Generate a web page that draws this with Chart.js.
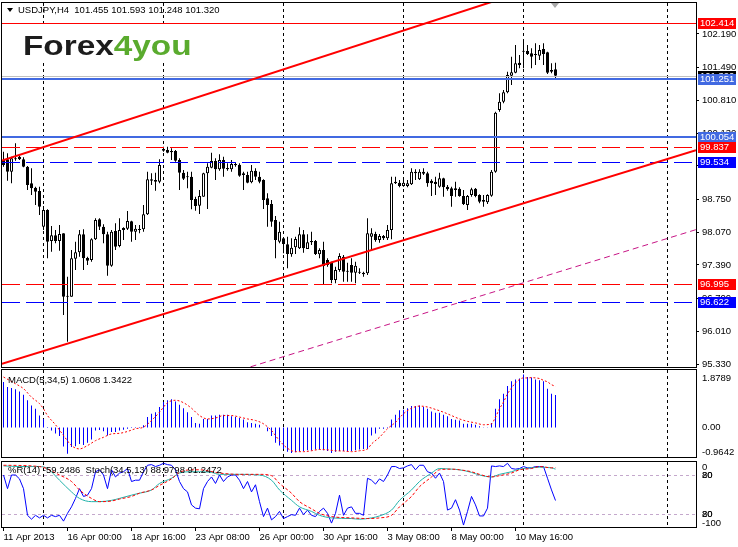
<!DOCTYPE html>
<html>
<head>
<meta charset="utf-8">
<title>USDJPY,H4</title>
<script src="https://cdn.jsdelivr.net/npm/chart.js@4.4.1/dist/chart.umd.min.js"></script>
<style>
  html, body { margin: 0; padding: 0; background: #fff; }
  #wrap { position: relative; width: 738px; height: 547px; overflow: hidden; background: #fff; }
  canvas { position: absolute; left: 0; }
  #mainChart { top: 0; }
  #macdChart { top: 368px; }
  #stochChart { top: 459px; }
</style>
</head>
<body>
<div id="wrap">
  <canvas id="mainChart" width="738" height="368"></canvas>
  <canvas id="macdChart" width="738" height="90"></canvas>
  <canvas id="stochChart" width="738" height="88"></canvas>
</div>
<script>
// Chart.js defaults
Chart.defaults.font.family = '"Liberation Sans", Arial, sans-serif'
Chart.defaults.font.size = 9.5
Chart.defaults.color = '#000'
const FONT = '9.5px "Liberation Sans", Arial, sans-serif'

// ---- Candles, 139 H4 bars (11 Apr 2013 .. 10 May 2013) ----
const opens = [
  99.570, 99.584, 99.328, 99.605, 99.640, 99.584, 99.432, 99.085, 98.995, 98.926,
  98.185, 98.531, 97.887, 98.004, 97.887, 98.046, 96.730, 96.730, 97.519, 97.651,
  98.025, 97.533, 97.492, 97.921, 98.337, 98.185, 98.025, 97.374, 98.094, 97.783,
  98.115, 98.143, 98.295, 98.081, 98.136, 98.129, 98.441, 99.169, 99.155, 99.120,
  99.799, 99.778, 99.757, 99.757, 99.570, 99.307, 99.224, 99.224, 98.760, 98.621,
  98.808, 99.293, 99.411, 99.550, 99.376, 99.570, 99.404, 99.376, 99.487, 99.473,
  99.293, 99.259, 99.106, 99.349, 99.224, 99.155, 98.774, 98.656, 98.323, 97.873,
  97.942, 97.817, 97.609, 97.755, 97.734, 98.025, 97.720, 97.859, 97.887, 97.609,
  97.700, 97.492, 97.436, 97.076, 97.284, 97.561, 97.249, 97.388, 97.228, 97.249,
  97.228, 97.215, 97.977, 98.032, 97.908, 97.991, 97.942, 98.115, 99.085, 99.099,
  99.030, 99.030, 99.065, 99.328, 99.169, 99.328, 99.293, 99.141, 99.120, 99.016,
  99.189, 99.016, 98.981, 98.981, 98.974, 98.822, 98.635, 98.843, 98.974, 98.843,
  98.739, 98.690, 98.829, 99.328, 100.610, 100.783, 100.977, 101.324, 101.386, 101.594,
  101.836, 101.836, 101.788, 101.774, 101.739, 101.878, 101.809, 101.442, 101.455
]
const highs = [
  99.744, 99.709, 99.640, 99.917, 99.654, 99.626, 99.446, 99.397, 99.016, 99.016,
  98.614, 98.545, 98.199, 98.115, 98.219, 98.046, 97.145, 97.700, 97.873, 98.115,
  98.129, 97.561, 97.942, 98.358, 98.358, 98.233, 98.081, 98.115, 98.254, 98.358,
  98.171, 98.510, 98.309, 98.219, 98.219, 98.635, 99.328, 99.293, 99.307, 99.584,
  99.848, 99.848, 99.813, 99.778, 99.605, 99.363, 99.328, 99.328, 98.808, 98.947,
  99.307, 99.501, 99.723, 99.605, 99.688, 99.640, 99.501, 99.570, 99.522, 99.501,
  99.328, 99.328, 99.466, 99.397, 99.328, 99.169, 98.878, 98.739, 98.406, 98.289,
  97.963, 97.977, 97.942, 97.977, 98.171, 98.115, 98.025, 98.081, 97.908, 97.734,
  97.873, 97.526, 97.457, 97.353, 97.630, 97.596, 97.436, 97.526, 97.457, 97.318,
  97.249, 98.358, 98.150, 98.081, 98.032, 98.012, 98.219, 99.224, 99.224, 99.155,
  99.189, 99.155, 99.397, 99.376, 99.376, 99.397, 99.328, 99.169, 99.224, 99.307,
  99.203, 99.051, 99.016, 99.120, 99.002, 98.947, 98.843, 98.995, 98.988, 98.857,
  98.843, 98.857, 99.363, 100.575, 100.957, 101.026, 101.407, 101.719, 101.961, 101.753,
  102.031, 101.961, 101.892, 101.996, 101.961, 101.996, 101.823, 101.580, 101.593
]
const lows = [
  99.432, 99.141, 99.085, 99.557, 99.570, 99.418, 98.947, 98.843, 98.635, 98.427,
  98.115, 97.526, 97.665, 97.838, 97.686, 96.348, 95.794, 96.730, 97.284, 97.561,
  97.284, 97.388, 97.457, 97.908, 98.115, 97.838, 97.166, 97.353, 97.700, 97.755,
  97.908, 98.115, 97.873, 97.908, 98.046, 98.081, 98.427, 99.051, 98.933, 99.085,
  99.744, 99.709, 99.570, 99.536, 98.947, 99.155, 98.981, 98.545, 98.517, 98.448,
  98.808, 98.552, 99.397, 99.155, 99.349, 99.224, 99.349, 99.328, 99.432, 99.224,
  98.947, 99.085, 99.085, 99.155, 99.085, 98.552, 98.185, 98.185, 97.526, 97.838,
  97.630, 97.318, 97.561, 97.616, 97.720, 97.644, 97.720, 97.804, 97.595, 97.526,
  96.972, 97.353, 97.007, 97.007, 97.249, 97.041, 97.041, 97.041, 97.007, 97.201,
  97.145, 97.180, 97.700, 97.873, 97.852, 97.908, 97.908, 97.921, 99.071, 99.002,
  99.016, 99.002, 99.051, 99.155, 99.155, 99.259, 99.016, 98.822, 98.843, 98.995,
  98.808, 98.933, 98.600, 98.808, 98.808, 98.635, 98.531, 98.808, 98.794, 98.670,
  98.600, 98.656, 98.808, 99.307, 100.575, 100.749, 100.957, 101.130, 101.372, 101.476,
  101.476, 101.753, 101.476, 101.545, 101.649, 101.545, 101.358, 101.372, 101.248
]
const closes = [
  99.466, 99.328, 99.605, 99.584, 99.584, 99.432, 99.051, 98.981, 98.912, 98.600,
  98.531, 97.873, 98.004, 97.887, 98.032, 96.730, 96.750, 97.526, 97.651, 98.025,
  97.526, 97.478, 97.921, 98.323, 98.185, 98.025, 97.374, 98.081, 97.769, 98.115,
  98.157, 98.302, 98.081, 98.143, 98.115, 98.441, 99.169, 99.141, 99.120, 99.466,
  99.764, 99.723, 99.730, 99.557, 99.307, 99.182, 99.210, 98.739, 98.614, 98.822,
  99.293, 99.432, 99.550, 99.376, 99.570, 99.390, 99.376, 99.487, 99.460, 99.245,
  99.259, 99.099, 99.349, 99.224, 99.120, 98.739, 98.635, 98.289, 97.908, 98.081,
  97.824, 97.616, 97.748, 97.928, 98.025, 97.734, 97.859, 97.887, 97.616, 97.700,
  97.367, 97.388, 97.076, 97.284, 97.575, 97.249, 97.263, 97.228, 97.374, 97.228,
  97.194, 98.046, 98.046, 97.908, 97.991, 97.942, 98.115, 99.085, 99.120, 99.030,
  99.099, 99.085, 99.328, 99.293, 99.328, 99.286, 99.085, 99.085, 99.071, 99.189,
  99.002, 98.961, 98.822, 98.947, 98.822, 98.656, 98.822, 98.961, 98.822, 98.704,
  98.704, 98.843, 99.328, 100.555, 100.783, 100.977, 101.338, 101.393, 101.580, 101.545,
  101.823, 101.774, 101.719, 101.753, 101.857, 101.774, 101.386, 101.407, 101.320
]

// Price axis ticks
const priceTicks = [102.19, 101.49, 100.81, 100.13, 99.45, 98.75, 98.07, 97.39, 96.70, 96.01, 95.33]

// Horizontal levels (drawn objects) and trend lines given as [bar, price] anchor pairs
const hLevels = [102.414, 101.251, 100.054, 99.837, 99.534, 96.995, 96.622]
const upperChannel = [[0, 99.569], [120, 102.801]]
const lowerChannel = [[0, 95.342], [120, 98.415]]
const magentaLine = [[100, 96.251], [173, 98.120]]

// MACD(5,34,5)
const macdMax = 1.8789
const macdMin = -0.9642
const macdHist = [
  1.49, 1.32, 1.29, 1.25, 1.18, 1.07, 0.89, 0.72, 0.61, 0.39,
  0.28, 0.02, -0.10, -0.20, -0.28, -0.62, -0.86, -0.64, -0.61, -0.54,
  -0.57, -0.50, -0.39, -0.10, -0.08, -0.12, -0.26, -0.15, -0.15, -0.10,
  -0.07, -0.04, -0.02, -0.02, -0.02, 0.07, 0.34, 0.45, 0.50, 0.67,
  0.83, 0.89, 0.92, 0.85, 0.74, 0.63, 0.50, 0.34, 0.15, 0.12,
  0.28, 0.28, 0.39, 0.39, 0.42, 0.42, 0.42, 0.37, 0.34, 0.31,
  0.26, 0.17, 0.15, 0.12, 0.09, 0.00, -0.12, -0.28, -0.50, -0.59,
  -0.70, -0.79, -0.83, -0.81, -0.77, -0.77, -0.74, -0.75, -0.72, -0.72,
  -0.74, -0.77, -0.83, -0.79, -0.77, -0.77, -0.77, -0.77, -0.74, -0.72,
  -0.70, -0.70, -0.26, -0.20, -0.04, -0.04, -0.02, 0.26, 0.42, 0.56,
  0.58, 0.63, 0.70, 0.70, 0.72, 0.67, 0.61, 0.52, 0.48, 0.48,
  0.42, 0.37, 0.28, 0.25, 0.23, 0.12, 0.12, 0.12, 0.09, 0.04,
  0.01, 0.01, 0.15, 0.61, 0.92, 1.10, 1.36, 1.51, 1.57, 1.60,
  1.73, 1.65, 1.63, 1.57, 1.54, 1.51, 1.27, 1.10, 1.0608
]
const macdSigBars = [0, 3, 5, 7, 9, 10, 11, 13, 15, 17, 19, 21, 23, 25, 27, 29, 31, 33, 35, 37,
  39, 41, 43, 45, 47, 49, 51, 53, 55, 57, 59, 61, 63, 65, 67, 69, 71, 73, 75, 77,
  79, 81, 83, 85, 87, 89, 91, 92, 94, 96, 98, 100, 102, 104, 106, 108, 110, 112, 114, 116,
  118, 120, 122, 123, 124, 125, 126, 127, 128, 129, 130, 131, 132, 133, 134, 135, 136, 137, 138]
const macdSignal = [1.65, 1.43, 1.27, 0.99, 0.78, 0.61, 0.39, 0.09, -0.26, -0.59, -0.70, -0.59, -0.43, -0.32, -0.21, -0.19, -0.13, -0.04, 0.01, 0.23,
  0.50, 0.81, 0.89, 0.81, 0.63, 0.39, 0.28, 0.31, 0.39, 0.39, 0.34, 0.28, 0.23, 0.12, -0.10, -0.43, -0.68, -0.79, -0.79, -0.76,
  -0.72, -0.73, -0.76, -0.77, -0.79, -0.76, -0.70, -0.54, -0.32, -0.04, 0.17, 0.45, 0.63, 0.70, 0.67, 0.59, 0.50, 0.39, 0.28, 0.20,
  0.15, 0.09, 0.12, 0.34, 0.61, 0.83, 1.10, 1.29, 1.46, 1.57, 1.62, 1.62, 1.63, 1.62, 1.60, 1.54, 1.49, 1.40, 1.3422]

// %R(14) and Stoch(34,5,13)
const wpr = [
  -20, -41, -20, -20, -26, -41, -82, -88, -82, -86,
  -82, -86, -82, -84, -82, -91, -79, -69, -56, -41,
  -53, -51, -41, -15, -12, -20, -41, -12, -23, -17,
  -15, -10, -30, -28, -28, -15, -5, -4, -7, -5,
  -2, -4, -5, -12, -30, -41, -46, -66, -71, -72,
  -41, -30, -23, -33, -20, -30, -23, -20, -20, -28,
  -41, -30, -46, -35, -61, -84, -71, -89, -84, -76,
  -87, -84, -81, -82, -71, -81, -74, -82, -84, -76,
  -71, -79, -94, -79, -51, -82, -71, -69, -79, -79,
  -82, -25, -28, -34, -26, -30, -20, -7, -7, -10,
  -9, -6, -4, -12, -5, -5, -15, -17, -25, -17,
  -30, -74, -71, -58, -74, -97, -76, -53, -66, -83,
  -83, -71, -6, -7, -6, -7, -2, -10, -11, -10,
  -7, -9, -9, -7, -7, -7, -25, -43, -59.2486
]
const stochBars = [0, 4, 9, 11, 14, 17, 19, 22, 24, 27, 29, 32, 34, 37, 39, 42, 44, 47, 49, 52,
  54, 59, 64, 67, 69, 72, 74, 77, 79, 82, 87, 89, 92, 94, 97, 99, 102, 104, 107, 109,
  112, 114, 117, 119, 122, 124, 127, 129, 132, 134, 137, 138]
const stochMain = [94, 93, 93, 90, 72, 54, 44, 39, 39, 41, 44, 49, 52, 57, 67, 75, 83, 85, 85, 84,
  81, 81, 80, 72, 57, 41, 31, 24, 18, 14, 13, 12, 14, 17, 26, 41, 57, 70, 83, 90,
  89, 88, 84, 80, 77, 81, 85, 89, 91, 92, 91, 88.9798]
const stochSigBars = [0, 9, 14, 17, 19, 22, 24, 27, 29, 32, 34, 37, 39, 42, 44, 47, 49, 54, 59, 64,
  67, 69, 72, 74, 77, 79, 82, 87, 91, 94, 97, 99, 102, 104, 107, 109, 112, 114, 117, 119,
  122, 124, 127, 129, 132, 134, 137, 138]
const stochSignal = [95, 93, 80, 70, 57, 44, 39, 40, 43, 47, 52, 57, 64, 74, 84, 88, 88, 83, 81, 81,
  79, 67, 52, 39, 28, 21, 16, 14, 13, 14, 18, 31, 47, 62, 77, 88, 89, 88, 85, 81,
  77, 79, 83, 88, 90, 93, 91, 91.2472]
const stochLevels = [80, 20]

// Time axis
const dateBars = [0, 16, 32, 48, 64, 80, 96, 112, 128]
const dateLabels = ['11 Apr 2013', '16 Apr 00:00', '18 Apr 16:00', '23 Apr 08:00', '26 Apr 00:00',
  '30 Apr 16:00', '3 May 08:00', '8 May 00:00', '10 May 16:00']
const sepBars = [10, 40, 70, 100, 130, 166]   // weekly separators

// ---- Layout (bar i sits at 3.5 + 4*i px) ----
const X_MIN = -0.375, X_MAX = 173.125
const Y_MIN = 95.268, Y_MAX = 102.834
const last = opens.length - 1
const bars = opens.map((_, i) => i)
const bidPrice = closes[last]

const hStyles = [
  { color: '#ff0000', width: 1, dash: [] },
  { color: '#4169e1', width: 2, dash: [] },
  { color: '#4169e1', width: 2, dash: [] },
  { color: '#ff0000', width: 1, dash: [18, 6] },
  { color: '#0000ff', width: 1, dash: [18, 6] },
  { color: '#ff0000', width: 1, dash: [18, 6] },
  { color: '#0000ff', width: 1, dash: [18, 6] }
]
const trendLines = [
  { pts: upperChannel, color: '#ff0000', width: 2, dash: [] },
  { pts: lowerChannel, color: '#ff0000', width: 2, dash: [] },
  { pts: magentaLine, color: '#c71585', width: 1, dash: [6, 4] }
]

function hline(ctx, x1, x2, y) {
  ctx.beginPath(); ctx.moveTo(x1, y); ctx.lineTo(x2, y); ctx.stroke()
}

// Separators under the data, black frame on top
const framePlugin = {
  id: 'frame',
  beforeDatasetsDraw(chart) {
    const { ctx, chartArea: a, scales: { x } } = chart
    ctx.save()
    ctx.strokeStyle = '#000'
    ctx.lineWidth = 1
    ctx.setLineDash([3, 3])
    for (const b of sepBars) {
      const px = x.getPixelForValue(b)
      ctx.beginPath(); ctx.moveTo(px, a.top); ctx.lineTo(px, a.bottom); ctx.stroke()
    }
    ctx.restore()
  },
  afterDraw(chart) {
    const { ctx, chartArea: a } = chart
    ctx.save()
    ctx.strokeStyle = '#000'
    ctx.lineWidth = 1
    ctx.strokeRect(a.left - 0.5, a.top - 0.5, a.width + 1, a.height + 1)
    ctx.restore()
  }
}

const mainDecor = {
  id: 'mainDecor',
  afterDatasetsDraw(chart) {
    const { ctx, chartArea: a, scales: { x, y } } = chart
    ctx.save()
    ctx.beginPath()
    ctx.rect(a.left, a.top, a.width, a.height)
    ctx.clip()

    // bid line
    ctx.strokeStyle = '#c0c0c0'
    ctx.lineWidth = 1
    hline(ctx, a.left, a.right, Math.round(y.getPixelForValue(bidPrice)) + 0.5)

    // horizontal levels
    hLevels.forEach((v, k) => {
      const st = hStyles[k]
      const py = Math.round(y.getPixelForValue(v)) + (st.width % 2 ? 0.5 : 0)
      ctx.strokeStyle = st.color
      ctx.lineWidth = st.width
      ctx.setLineDash(st.dash)
      hline(ctx, a.left, a.right, py)
    })

    // trend lines, extended across the panel
    for (const t of trendLines) {
      const x1 = x.getPixelForValue(t.pts[0][0]), y1 = y.getPixelForValue(t.pts[0][1])
      const x2 = x.getPixelForValue(t.pts[1][0]), y2 = y.getPixelForValue(t.pts[1][1])
      const k = (y2 - y1) / (x2 - x1)
      ctx.strokeStyle = t.color
      ctx.lineWidth = t.width
      ctx.setLineDash(t.dash)
      ctx.beginPath()
      ctx.moveTo(a.left, y1 + (a.left - x1) * k)
      ctx.lineTo(a.right, y1 + (a.right - x1) * k)
      ctx.stroke()
    }
    ctx.restore()
  },
  afterDraw(chart) {
    const { ctx, chartArea: a, scales: { y } } = chart
    ctx.save()

    // logo
    ctx.fillStyle = '#fff'
    ctx.fillRect(14, 26, 190, 36)
    ctx.save()
    ctx.translate(23, 55)
    ctx.scale(1.19, 1)
    ctx.font = 'bold 28px "Liberation Sans", Arial, sans-serif'
    ctx.textBaseline = 'alphabetic'
    ctx.fillStyle = '#1c1c1c'
    ctx.fillText('Forex', 0, 0)
    const w = ctx.measureText('Forex').width
    ctx.fillStyle = '#5aab2e'
    ctx.fillText('4you', w, 0)
    ctx.restore()

    // header
    ctx.fillStyle = '#000'
    ctx.beginPath()
    ctx.moveTo(7, 8); ctx.lineTo(13, 8); ctx.lineTo(10, 12); ctx.closePath()
    ctx.fill()
    ctx.font = FONT
    ctx.textBaseline = 'middle'
    const ohlc = [opens[last], highs[last], lows[last], closes[last]].map(v => v.toFixed(3)).join(' ')
    ctx.fillText('USDJPY,H4  ' + ohlc, 18, 10)

    // shift marker
    ctx.fillStyle = '#a8a8a8'
    ctx.beginPath()
    ctx.moveTo(551, 3); ctx.lineTo(559, 3); ctx.lineTo(555, 8); ctx.closePath()
    ctx.fill()

    // price boxes on the axis
    const bx = a.right + 2
    const box = (v, color) => {
      const py = Math.round(y.getPixelForValue(v))
      ctx.fillStyle = color
      ctx.fillRect(bx, py - 5, 38, 11)
      ctx.fillStyle = '#fff'
      ctx.fillText(v.toFixed(3), bx + 2, py + 0.5)
    }
    box(bidPrice, '#000')
    hLevels.forEach((v, k) => box(v, hStyles[k].color))
    ctx.restore()
  }
}

const macdDecor = {
  id: 'macdDecor',
  afterDraw(chart) {
    const { ctx, chartArea: a, scales: { y } } = chart
    ctx.save()
    ctx.font = FONT
    ctx.fillStyle = '#000'
    ctx.textBaseline = 'middle'
    const tx = a.right + 6
    ctx.fillText(macdMax.toFixed(4), tx, a.top + 8)
    ctx.fillText('0.00', tx, y.getPixelForValue(0))
    ctx.fillText(macdMin.toFixed(4), tx, a.bottom - 5)
    ctx.fillText('MACD(5,34,5) ' + macdHist[last].toFixed(4) + ' ' + macdSignal[macdSignal.length - 1].toFixed(4), 8, a.top + 10)
    ctx.restore()
  }
}

const stochDecor = {
  id: 'stochDecor',
  beforeDatasetsDraw(chart) {
    const { ctx, chartArea: a, scales: { y } } = chart
    ctx.save()
    ctx.strokeStyle = '#c4a8cc'
    ctx.lineWidth = 1
    ctx.setLineDash([3, 3])
    for (const lv of stochLevels) hline(ctx, a.left, a.right, Math.round(y.getPixelForValue(lv)) + 0.5)
    ctx.restore()
  },
  afterDraw(chart) {
    const { ctx, chartArea: a, scales: { y } } = chart
    ctx.save()
    ctx.font = FONT
    ctx.fillStyle = '#000'
    ctx.textBaseline = 'middle'
    const tx = a.right + 6
    ctx.fillText('0', tx, a.top + 5)
    for (const lv of stochLevels) {
      const py = y.getPixelForValue(lv)
      ctx.fillText(String(lv), tx, py)
      ctx.fillText(String(100 - lv), tx, py)
    }
    ctx.fillText('-100', tx, a.bottom - 4)
    const title = '%R(14) ' + wpr[last].toFixed(4) + '  Stoch(34,5,13) ' +
      stochMain[stochMain.length - 1].toFixed(4) + ' ' + stochSignal[stochSignal.length - 1].toFixed(4)
    ctx.fillText(title, 8, a.top + 8)
    ctx.restore()
  }
}

// Shared x axis
function xAxis(show) {
  const ax = { type: 'linear', min: X_MIN, max: X_MAX, offset: false, display: show }
  if (!show) return ax
  return Object.assign(ax, {
    afterBuildTicks: s => { s.ticks = dateBars.map(v => ({ value: v })) },
    afterFit: s => { s.height = 20; s.paddingLeft = 0; s.paddingRight = 0 },
    grid: { drawOnChartArea: false, tickLength: 4, color: '#000' },
    border: { display: false },
    ticks: { autoSkip: false, maxRotation: 0, minRotation: 0, align: 'start', padding: 1, color: '#000',
      callback: (v, i) => dateLabels[i] }
  })
}

function panelOptions(padding, yScales, showX) {
  return {
    responsive: false,
    animation: false,
    devicePixelRatio: 1,
    events: [],
    layout: { padding },
    plugins: { legend: { display: false }, tooltip: { enabled: false } },
    scales: Object.assign({ x: xAxis(showX) }, yScales)
  }
}

const barCommon = { grouped: false, barPercentage: 1, categoryPercentage: 1, inflateAmount: 0, borderSkipped: false }

// Main price panel
new Chart(document.getElementById('mainChart'), {
  type: 'bar',
  data: {
    datasets: [
      Object.assign({
        data: bars.map(i => ({ x: i, y: [Math.min(opens[i], closes[i]), Math.max(opens[i], closes[i])] })),
        backgroundColor: bars.map(i => closes[i] >= opens[i] ? '#fff' : '#000'),
        borderColor: '#000',
        borderWidth: 1,
        maxBarThickness: 3,
        minBarLength: 1,
        order: 0
      }, barCommon),
      Object.assign({
        data: bars.map(i => ({ x: i, y: [lows[i], highs[i]] })),
        backgroundColor: '#000',
        borderWidth: 0,
        maxBarThickness: 1,
        order: 1
      }, barCommon)
    ]
  },
  options: panelOptions({ left: 2, top: 3, right: 0, bottom: 1 }, {
    y: {
      position: 'right',
      min: Y_MIN,
      max: Y_MAX,
      afterBuildTicks: s => { s.ticks = priceTicks.map(v => ({ value: v })) },
      afterFit: s => { s.width = 42; s.paddingTop = 0; s.paddingBottom = 0 },
      grid: { drawOnChartArea: false, tickLength: 3, color: '#000' },
      border: { display: false },
      ticks: { padding: 3, color: '#000', callback: v => v.toFixed(3) }
    }
  }, false),
  plugins: [framePlugin, mainDecor]
})

// MACD panel
new Chart(document.getElementById('macdChart'), {
  type: 'bar',
  data: {
    datasets: [
      {
        type: 'line',
        data: macdSigBars.map((b, k) => ({ x: b, y: macdSignal[k] })),
        borderColor: '#ff0000',
        borderWidth: 1,
        borderDash: [2, 2],
        pointRadius: 0,
        cubicInterpolationMode: 'monotone',
        order: 0
      },
      Object.assign({
        data: bars.map(i => ({ x: i, y: macdHist[i] })),
        backgroundColor: '#0000ff',
        borderColor: '#0000ff',
        borderWidth: 0,
        maxBarThickness: 1,
        order: 1
      }, barCommon)
    ]
  },
  options: panelOptions({ left: 2, top: 2, right: 42, bottom: 1 }, {
    y: { display: false, min: macdMin, max: macdMax }
  }, false),
  plugins: [framePlugin, macdDecor]
})

// %R + Stochastic panel
new Chart(document.getElementById('stochChart'), {
  type: 'line',
  data: {
    datasets: [
      {
        data: stochSigBars.map((b, k) => ({ x: b, y: stochSignal[k] })),
        borderColor: '#ff0000',
        borderWidth: 1,
        borderDash: [3, 2],
        pointRadius: 0,
        cubicInterpolationMode: 'monotone',
        order: 0
      },
      {
        data: stochBars.map((b, k) => ({ x: b, y: stochMain[k] })),
        borderColor: '#20b2aa',
        borderWidth: 1,
        pointRadius: 0,
        cubicInterpolationMode: 'monotone',
        order: 1
      },
      {
        data: bars.map(i => ({ x: i, y: wpr[i] })),
        yAxisID: 'yR',
        borderColor: '#0000ff',
        borderWidth: 1,
        pointRadius: 0,
        tension: 0,
        order: 2
      }
    ]
  },
  options: panelOptions({ left: 2, top: 3, right: 42, bottom: 0 }, {
    y: { display: false, min: 0, max: 100 },
    yR: { display: false, min: -100, max: 0 }
  }, true),
  plugins: [framePlugin, stochDecor]
})
</script>
</body>
</html>
